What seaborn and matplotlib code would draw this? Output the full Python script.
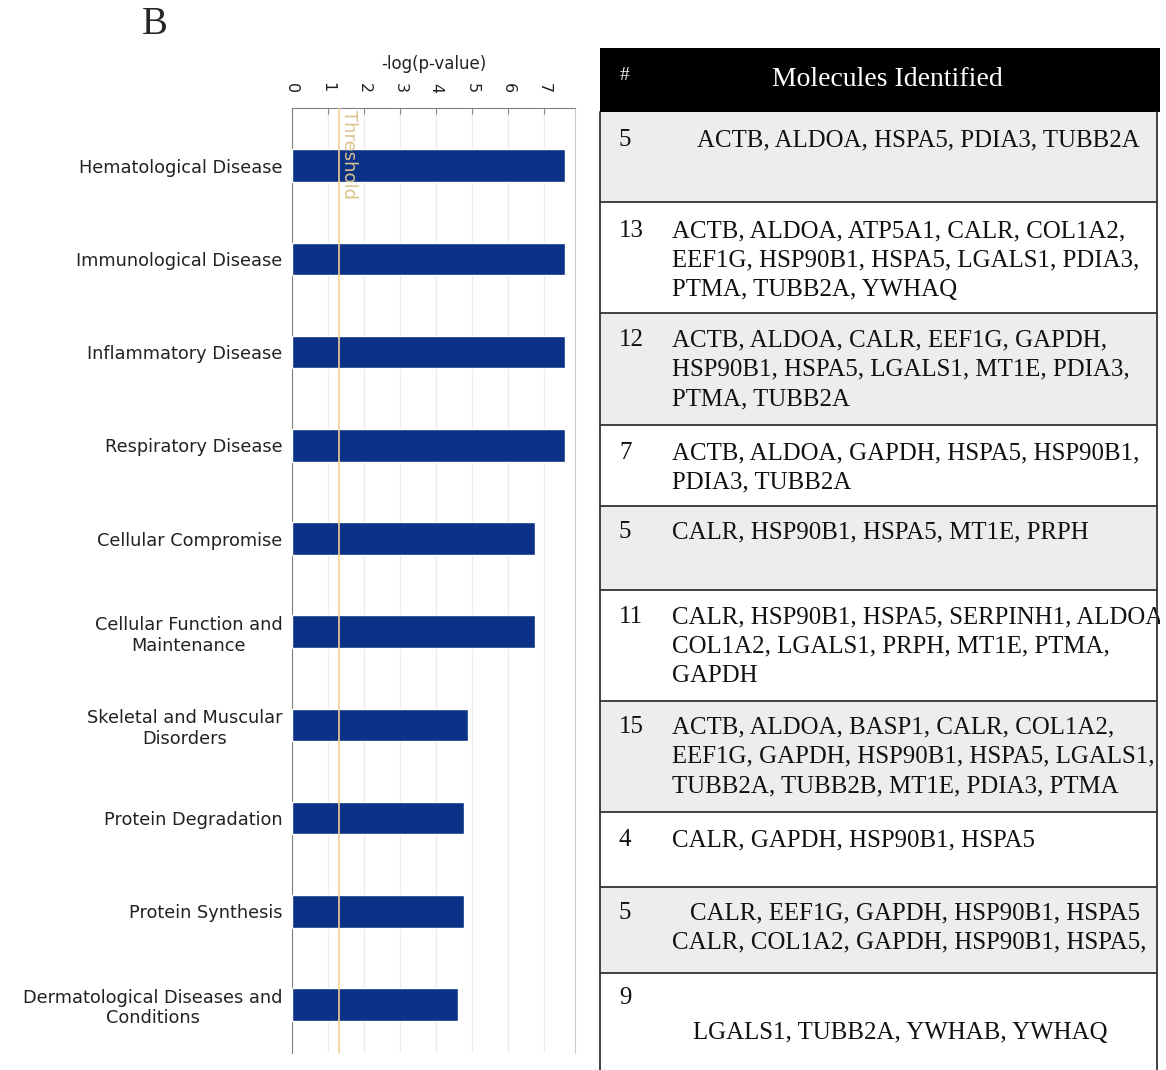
import numpy as np
import pandas as pd
import matplotlib
matplotlib.use("Agg")
import matplotlib.pyplot as plt
import seaborn as sns
from matplotlib.patches import Rectangle

# ---- data ----
categories = [
    "Hematological Disease",
    "Immunological Disease",
    "Inflammatory Disease",
    "Respiratory Disease",
    "Cellular Compromise",
    "Cellular Function and\nMaintenance",
    "Skeletal and Muscular\nDisorders",
    "Protein Degradation",
    "Protein Synthesis",
    "Dermatological Diseases and\nConditions",
]
neg_log_p = [7.58, 7.58, 7.58, 7.58, 6.75, 6.75, 4.88, 4.77, 4.77, 4.6]
threshold = 1.3

counts = ["5", "13", "12", "7", "5", "11", "15", "4", "5", "9"]
molecules = [
    ["ACTB, ALDOA, HSPA5, PDIA3, TUBB2A"],
    ["ACTB, ALDOA, ATP5A1, CALR, COL1A2,",
     "EEF1G, HSP90B1, HSPA5, LGALS1, PDIA3,",
     "PTMA, TUBB2A, YWHAQ"],
    ["ACTB, ALDOA, CALR, EEF1G, GAPDH,",
     "HSP90B1, HSPA5, LGALS1, MT1E, PDIA3,",
     "PTMA, TUBB2A"],
    ["ACTB, ALDOA, GAPDH, HSPA5, HSP90B1,",
     "PDIA3, TUBB2A"],
    ["CALR, HSP90B1, HSPA5, MT1E, PRPH"],
    ["CALR, HSP90B1, HSPA5, SERPINH1, ALDOA,",
     "COL1A2, LGALS1, PRPH, MT1E, PTMA,",
     "GAPDH"],
    ["ACTB, ALDOA, BASP1, CALR, COL1A2,",
     "EEF1G, GAPDH, HSP90B1, HSPA5, LGALS1,",
     "TUBB2A, TUBB2B, MT1E, PDIA3, PTMA"],
    ["CALR, GAPDH, HSP90B1, HSPA5"],
    ["CALR, EEF1G, GAPDH, HSP90B1, HSPA5",
     "CALR, COL1A2, GAPDH, HSP90B1, HSPA5,"],
    ["", "LGALS1, TUBB2A, YWHAB, YWHAQ"],
]

df = pd.DataFrame({"category": categories, "value": neg_log_p})

# ---- figure ----
W, H = 1166, 1070
fig = plt.figure(figsize=(W / 100, H / 100), dpi=100)
sns.set_style("white")
plt.rcParams["font.family"] = ["DejaVu Sans"]

ax = fig.add_axes([292 / W, 1 - 1053 / H, 283 / W, 945 / H])
sns.barplot(data=df, x="value", y="category", orient="h", color="#0b3287",
            width=0.35, saturation=1, ax=ax, zorder=3)
ax.set_xlim(0, 7.85)
ax.set_ylim(9.52, -0.62)
ax.set_xticks(range(8))
ax.xaxis.tick_top()
ax.xaxis.set_label_position("top")
ax.set_xlabel("-log(p-value)", fontsize=12, color="#222222", labelpad=10)
ax.set_ylabel("")
ax.tick_params(axis="x", top=True, direction="in", length=4, color="#888888",
               labelsize=11.5, labelrotation=270, pad=11, labelcolor="#222222")
ax.tick_params(axis="y", left=False, pad=3.5, labelsize=12.8, labelcolor="#222222")
for lab in ax.get_yticklabels():
    lab.set_multialignment("center")
ax.grid(axis="x", color="#ececec", lw=1, zorder=0)
ax.grid(axis="y", visible=False)
for s in ["top", "left"]:
    ax.spines[s].set_color("#808080")
ax.spines["right"].set_color("#cccccc")
ax.spines["bottom"].set_visible(False)

ax.axvline(threshold, color="#f2cf96", lw=1.2, zorder=4)
ax.text(threshold + 0.02, -0.6, "Threshold", rotation=270, ha="left", va="top",
        fontsize=13, color="#dcc48c", zorder=5)

fig.text(155 / W, 1 - 25 / H, "B", fontsize=28, family="Liberation Serif",
         ha="center", va="center")

# ---- table ----
tx0, tx1 = 598, 1160
ax_t = fig.add_axes([tx0 / W, 0, (tx1 - tx0) / W, 1])
ax_t.set_xlim(tx0, tx1)
ax_t.set_ylim(H, 0)
ax_t.axis("off")

row_edges = [112, 202, 313, 425, 506, 590, 701, 812, 887, 973, 1075]
first_line = [140, 231, 340, 453, 532, 617, 727, 840, 913, 1033]
count_y = [140, 231, 340, 453, 532, 617, 727, 840, 913, 998]
text_x = [697, 672, 672, 672, 672, 672, 672, 672, 690, 693]
line_gap = 29.5
right_edge = 1157
serif = "Liberation Serif"
fs = 17.9

ax_t.add_patch(Rectangle((600, 48), right_edge + 5 - 600, 112 - 48,
                         facecolor="black", edgecolor="none"))
ax_t.text(625, 76, "#", color="white", fontsize=14, family=serif,
          ha="center", va="center")
ax_t.text(887, 80, "Molecules Identified", color="white", fontsize=20,
          family=serif, ha="center", va="center")

for i in range(len(counts)):
    top, bot = row_edges[i], row_edges[i + 1]
    fc = "#ededed" if i % 2 == 0 else "white"
    ax_t.add_patch(Rectangle((600, top), right_edge - 600, bot - top,
                             facecolor=fc, edgecolor="none", zorder=1))
    ax_t.text(619, count_y[i], counts[i], fontsize=fs, family=serif,
              ha="left", va="center", color="#111111", zorder=3)
    for k, line in enumerate(molecules[i]):
        y = first_line[i] + k * line_gap if i != 9 else first_line[i]
        if line == "":
            continue
        ax_t.text(text_x[i] if (k == 0 or i == 9) else 672, y, line,
                  fontsize=fs, family=serif, ha="left", va="center",
                  color="#111111", zorder=3, clip_on=True)
    if i > 0:
        ax_t.plot([600, right_edge], [top, top], color="#333333", lw=1.3,
                  zorder=4)

ax_t.plot([600, 600], [112, H], color="#333333", lw=1.3, zorder=4)
ax_t.plot([right_edge, right_edge], [112, H], color="#333333", lw=1.3, zorder=4)

fig.savefig("out.png", dpi=100)
